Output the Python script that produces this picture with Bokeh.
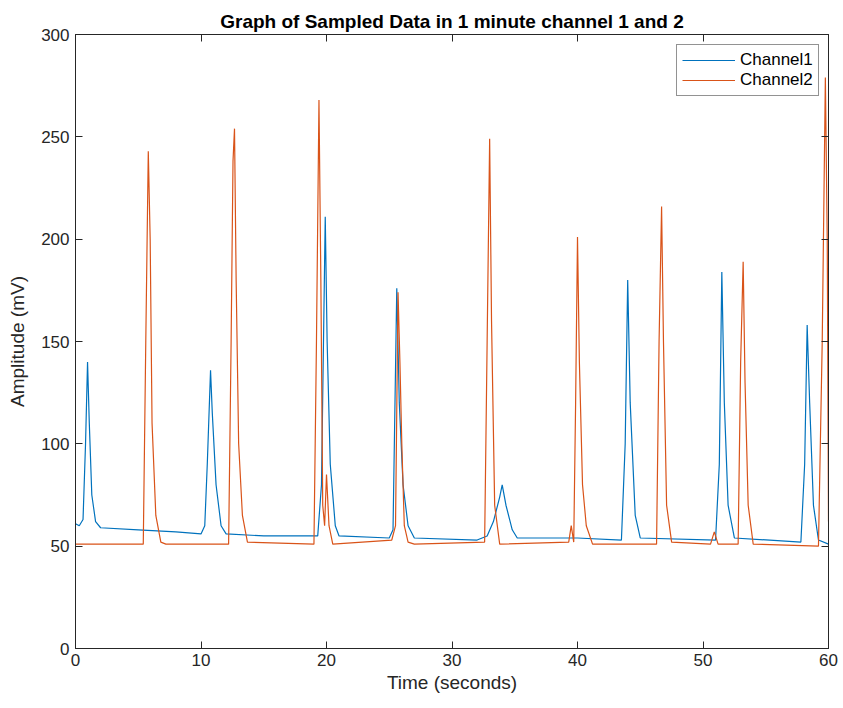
from bokeh.plotting import figure
from bokeh.models import LinearAxis, Range1d, FixedTicker, Legend, LegendItem, Title
from bokeh.embed import file_html
from bokeh.resources import INLINE

# ---- data ----
ch1_t = [0, 0.3, 0.6, 0.8, 0.96, 1.1, 1.3, 1.6, 2.0, 5, 8, 10.0, 10.3, 10.5, 10.76, 10.9, 11.2, 11.6, 12,
         15, 19.3, 19.6, 19.9, 20.05, 20.3, 20.7, 21, 25, 25.3, 25.6, 25.8, 26.1, 26.5, 27, 32, 32.8, 33.3,
         33.8, 34.0, 34.3, 34.8, 35.2, 40, 43.5, 43.8, 44.0, 44.2, 44.6, 45, 51.0, 51.3, 51.5, 51.7, 52.0,
         52.5, 57.8, 58.1, 58.3, 58.5, 58.8, 59.2, 60]
ch1_v = [61, 60, 63, 100, 140, 110, 75, 62, 59, 58, 57, 56, 60, 90, 136, 115, 80, 60, 56,
         55, 55, 80, 211, 150, 90, 60, 55, 54, 58, 176, 120, 80, 60, 54, 53, 55, 62,
         74, 80, 70, 58, 54, 54, 53, 100, 180, 120, 65, 54, 53, 90, 184, 120, 70,
         54, 52, 90, 158, 120, 70, 53, 51]

ch2_t = [0, 5.4, 5.6, 5.8, 5.95, 6.1, 6.4, 6.8, 7.2, 12.2, 12.4, 12.55, 12.67, 12.8, 13.0, 13.3, 13.7,
         19.0, 19.2, 19.4, 19.55, 19.7, 19.85, 20.0, 20.2, 20.5, 25.2, 25.5, 25.7, 25.85, 26.0, 26.2, 26.5,
         27, 32.6, 32.8, 33.0, 33.15, 33.4, 33.8, 39.3, 39.5, 39.7, 39.85, 40.0, 40.15, 40.4, 40.7, 41.2,
         46.3, 46.5, 46.7, 46.85, 47.1, 47.5, 50.6, 50.9, 51.2, 52.8, 53.0, 53.2, 53.35, 53.6, 54.0,
         59.2, 59.5, 59.75, 59.9, 60]
ch2_v = [51, 51, 150, 243, 200, 110, 65, 52, 51, 51, 150, 238, 254, 180, 100, 65, 52,
         51, 150, 268, 180, 70, 60, 85, 60, 51, 53, 60, 174, 140, 100, 60, 52,
         51, 52, 150, 249, 160, 70, 51, 52, 60, 52, 120, 201, 140, 80, 60, 51,
         51, 150, 216, 150, 70, 52, 51, 57, 51, 51, 140, 189, 130, 70, 51,
         50, 150, 279, 200, 62]

x_ticks = [0, 10, 20, 30, 40, 50, 60]
y_ticks = [0, 50, 100, 150, 200, 250, 300]
series_names = ["Channel1", "Channel2"]

FONT = "Liberation Sans"
AX = "#262626"

p = figure(width=843, height=708, output_backend="svg", toolbar_location=None,
           x_range=Range1d(0, 60), y_range=Range1d(0, 300),
           x_axis_location=None, y_axis_location=None,
           min_border_left=75, min_border_right=15, min_border_top=34, min_border_bottom=60)
p.grid.visible = False
p.outline_line_color = AX
p.outline_line_width = 1
p.background_fill_color = "white"
p.border_fill_color = "white"

def style_axis(ax, labels=True):
    ax.axis_line_color = AX
    ax.major_tick_line_color = AX
    ax.major_tick_in = 7
    ax.major_tick_out = 0
    ax.minor_tick_line_color = None
    ax.major_label_text_font = FONT
    ax.major_label_text_font_size = "17px" if labels else "0px"
    ax.major_label_text_color = AX if labels else None
    ax.axis_label_text_font = FONT
    ax.axis_label_text_font_size = "19px"
    ax.axis_label_text_font_style = "normal"
    ax.axis_label_text_color = AX

xb = LinearAxis(ticker=FixedTicker(ticks=x_ticks), axis_label="Time (seconds)")
style_axis(xb)
xb.major_label_standoff = 5
xb.axis_label_standoff = 3
p.add_layout(xb, "below")

yl = LinearAxis(ticker=FixedTicker(ticks=y_ticks), axis_label="Amplitude (mV)")
style_axis(yl)
yl.major_label_standoff = 6
yl.axis_label_standoff = 10
p.add_layout(yl, "left")

xt = LinearAxis(ticker=FixedTicker(ticks=x_ticks))
style_axis(xt, labels=False)
xt.major_label_standoff = 0
p.add_layout(xt, "above")

yr = LinearAxis(ticker=FixedTicker(ticks=y_ticks))
style_axis(yr, labels=False)
yr.major_label_standoff = 0
p.add_layout(yr, "right")

p.add_layout(Title(text="Graph of Sampled Data in 1 minute channel 1 and 2", align="center",
                   text_font=FONT, text_font_size="19px", text_font_style="bold",
                   text_color="black", standoff=6), "above")

r1 = p.line(ch1_t, ch1_v, line_color="#0072BD", line_width=1.2)
r2 = p.line(ch2_t, ch2_v, line_color="#D95319", line_width=1.2)

leg = Legend(items=[LegendItem(label=series_names[0], renderers=[r1]),
                    LegendItem(label=series_names[1], renderers=[r2])],
             location=(601, 552), margin=0, padding=5, spacing=0,
             glyph_width=53, glyph_height=20, label_height=20, label_standoff=5,
             label_text_font=FONT, label_text_font_size="17px", label_text_color="black",
             border_line_color=AX, border_line_width=1, background_fill_alpha=1)
p.add_layout(leg, "center")

open("out.html", "w").write(file_html(p, INLINE))
